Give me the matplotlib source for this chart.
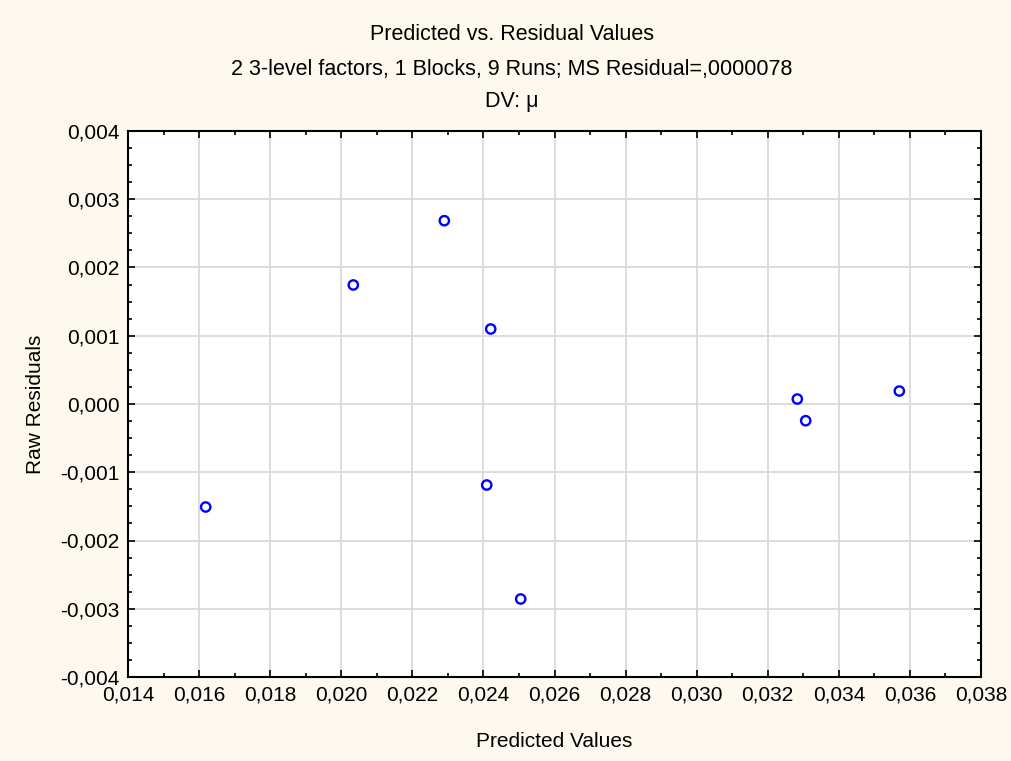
import matplotlib
matplotlib.use("Agg")
import matplotlib.pyplot as plt
from matplotlib.ticker import MultipleLocator, FuncFormatter

plt.rcParams['font.family'] = ['Liberation Sans', 'DejaVu Sans']

# predicted values and raw residuals for the 9 runs
predicted = [0.016186, 0.020339, 0.022900, 0.024205, 0.024093,
             0.025049, 0.032832, 0.033068, 0.035702]
residuals = [-0.001509, 0.001744, 0.002686, 0.001099, -0.001187,
             -0.002857, 0.000073, -0.000245, 0.000190]

title_lines = ["Predicted vs. Residual Values",
               "2 3-level factors, 1 Blocks, 9 Runs; MS Residual=,0000078",
               "DV: \u03bc"]

bg = "#FDF9EE"
fig = plt.figure(figsize=(10.12, 7.61), dpi=100, facecolor=bg)
ax = fig.add_axes([128/1012, 1 - 677/761, (981 - 128)/1012, (677 - 131)/761])
ax.set_facecolor("white")

ax.scatter(predicted, residuals, s=45, facecolors="none", edgecolors="#0000FF",
           linewidths=1.7, zorder=3, clip_on=False)

ax.set_xlim(0.014, 0.038)
ax.set_ylim(-0.004, 0.004)
ax.xaxis.set_major_locator(MultipleLocator(0.002))
ax.xaxis.set_minor_locator(MultipleLocator(0.001))
ax.yaxis.set_major_locator(MultipleLocator(0.001))
ax.yaxis.set_minor_locator(MultipleLocator(0.00025))

comma = FuncFormatter(lambda v, pos: ("%.3f" % v).replace(".", ",").replace("-0,000", "0,000"))
ax.xaxis.set_major_formatter(comma)
ax.yaxis.set_major_formatter(comma)

ax.grid(True, which="major", color="#D9D9D9", linewidth=1.3, zorder=0)
ax.set_axisbelow(True)
for sp in ax.spines.values():
    sp.set_linewidth(1.5)
    sp.set_color("black")

ax.tick_params(which="both", direction="in", top=True, right=True,
               labelsize=15, colors="black")
ax.tick_params(which="major", length=5, width=1.2, pad=6)
ax.tick_params(which="minor", length=3, width=1.2)

ax.set_xlabel("Predicted Values", fontsize=15, labelpad=20)
ax.set_ylabel("Raw Residuals", fontsize=15, labelpad=11)

for y, line in zip([34, 69, 102], title_lines):
    fig.text(512 / 1012, 1 - y / 761, line, ha="center", va="center",
             fontsize=15.5)

fig.savefig("out.png", dpi=100, facecolor=bg)
